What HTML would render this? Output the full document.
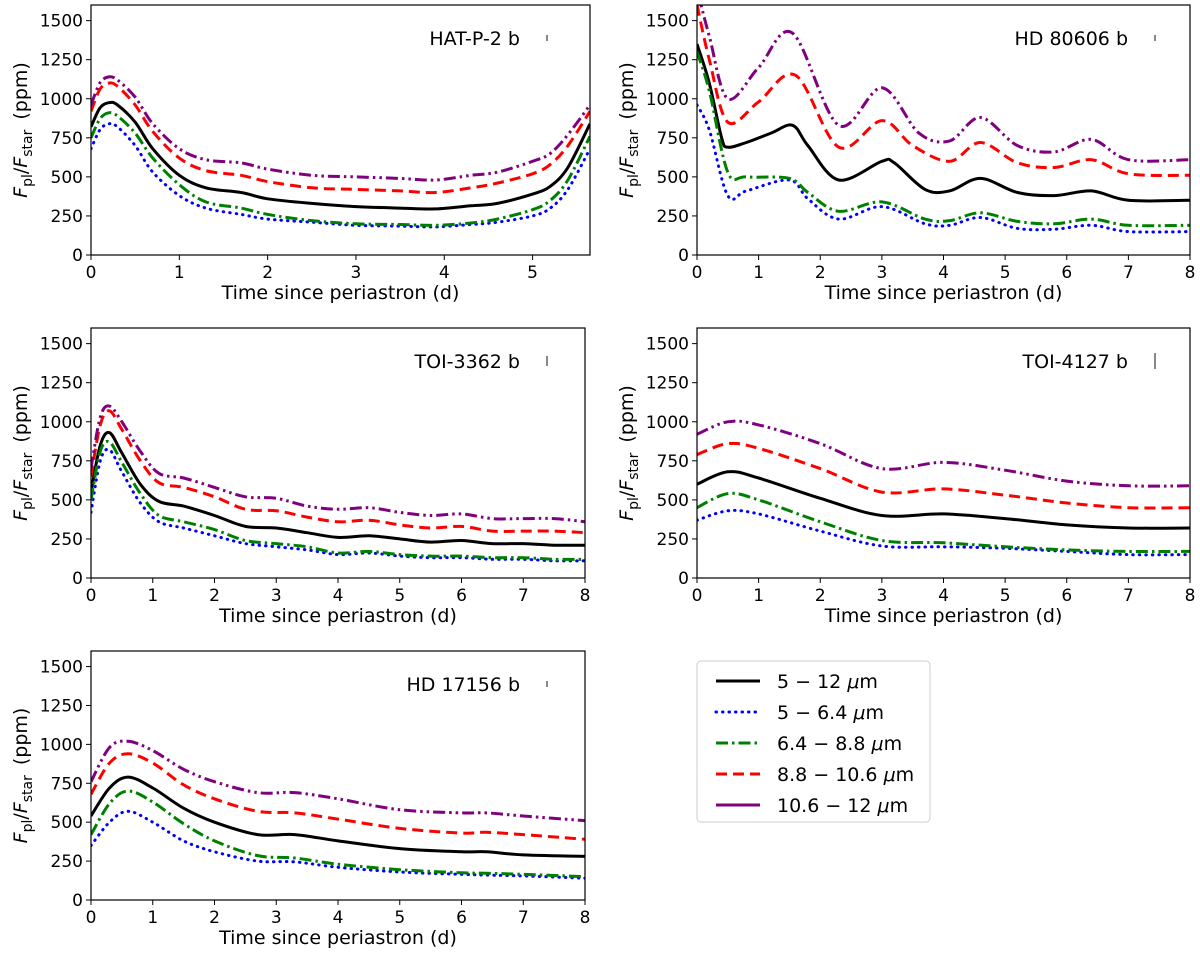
<!DOCTYPE html>
<html><head><meta charset="utf-8"><style>body{margin:0;background:#fff}svg{display:block}text{font-family:"DejaVu Sans","Liberation Sans",sans-serif;fill:#000}</style></head>
<body>
<svg id="fig" width="1200" height="960" xmlns="http://www.w3.org/2000/svg"></svg>
<script>
const seriesNames=["5 − 12 μm","5 − 6.4 μm","6.4 − 8.8 μm","8.8 − 10.6 μm","10.6 − 12 μm"];
const planetNames=["HAT-P-2 b","HD 80606 b","TOI-3362 b","TOI-4127 b","HD 17156 b"];
const yTicks=[0,250,500,750,1000,1250,1500];
const xTicksA=[0,1,2,3,4,5];
const xTicksB=[0,1,2,3,4,5,6,7,8];
// panel 1
const p1x=[0,0.1,0.2,0.3,0.5,0.7,1,1.3,1.7,2,2.5,3,3.5,3.9,4.3,4.6,5,5.2,5.4,5.65];
const p1black=[820,940,975,960,850,680,510,430,400,360,330,310,300,295,315,330,390,440,560,840];
const p1blue=[680,800,840,820,700,530,380,300,260,230,210,190,185,180,195,210,250,300,420,680];
const p1green=[750,870,910,890,780,620,450,340,300,260,220,200,195,190,205,230,290,350,480,760];
const p1red=[920,1060,1100,1080,960,790,620,540,510,470,430,420,410,400,430,460,520,580,700,920];
const p1purple=[960,1100,1140,1120,1010,840,680,610,590,550,510,500,490,480,510,530,600,650,770,960];
// panel 2
const p2xBlack=[0,0.2,0.4,0.5,0.8,1.2,1.55,1.8,2.3,3,3.2,3.7,4.1,4.6,5.2,5.8,6.4,7,8];
const p2black=[1350,1100,750,690,720,780,830,700,480,600,590,420,410,490,400,380,410,350,350];
const p2x=[0,0.2,0.5,0.8,1.5,1.8,2.3,3,3.7,4.1,4.6,5.2,5.8,6.4,7,8];
const p2blue=[960,800,380,410,480,360,230,310,200,190,240,170,165,190,150,150];
const p2green=[1300,1050,530,500,490,400,280,340,230,220,270,215,200,230,190,190];
const p2xR=[0,0.2,0.5,1,1.6,2.3,3,3.5,4.1,4.6,5.2,5.8,6.4,7,8];
const p2red=[1600,1250,850,980,1150,690,860,700,600,720,590,560,610,520,510];
const p2xP=[0,0.2,0.5,1,1.55,2.3,3,3.6,4.1,4.6,5.2,5.8,6.4,7,8];
const p2purple=[1700,1400,1000,1200,1420,830,1070,780,730,880,700,660,740,610,610];
// panel 3
const p3x=[0,0.15,0.3,0.5,0.8,1.1,1.5,2,2.5,3,3.5,4,4.5,5,5.5,6,6.5,7,7.5,8];
const p3black=[550,850,930,800,600,490,460,400,330,320,290,260,270,250,230,240,220,220,210,210];
const p3blue=[420,750,820,680,480,360,320,270,220,200,180,150,160,140,130,130,120,120,110,110];
const p3green=[500,810,870,740,540,400,360,310,240,220,200,160,170,150,140,140,130,130,120,120];
const p3red=[650,980,1070,950,750,610,580,520,440,430,390,360,370,340,320,330,300,300,300,290];
const p3purple=[700,1030,1100,1000,810,670,640,580,520,510,460,440,450,420,400,410,380,380,380,360];
// panel 4
const p4x=[0,0.5,1,2,3,4,5,6,7,8];
const p4black=[600,680,640,510,400,410,380,340,320,320];
const p4blue=[370,430,410,300,205,200,190,170,150,150];
const p4green=[450,540,500,360,240,225,200,180,170,170];
const p4red=[790,860,830,700,550,570,530,480,450,450];
const p4purple=[920,1000,980,860,700,740,690,620,590,590];
// panel 5
const p5x=[0,0.3,0.6,1,1.5,2,2.7,3.3,4,5,6,6.4,7,8];
const p5black=[540,720,790,720,590,500,420,420,380,330,310,310,290,280];
const p5blue=[350,500,570,500,380,310,250,245,210,180,165,160,155,140];
const p5green=[420,620,700,630,490,380,285,270,230,195,175,172,165,150];
const p5red=[680,880,940,880,740,650,570,560,520,460,430,435,420,390];
const p5purple=[760,980,1020,960,840,760,690,690,650,580,560,560,540,510];

const NS="http://www.w3.org/2000/svg";
const svg=document.getElementById('fig');
function mk(tag,attrs,parent){const e=document.createElementNS(NS,tag);for(const k in attrs)e.setAttribute(k,attrs[k]);(parent||svg).appendChild(e);return e;}
const styles=[
 {c:"#000",d:""},{c:"#0000ff",d:"0.5,6"},{c:"#008000",d:"12,4,2.5,4"},{c:"#ff0000",d:"11,6"},{c:"#800080",d:"12,4,2.5,4,2.5,4"}];
function smooth(pts){let d="M"+pts[0][0]+","+pts[0][1];for(let i=0;i<pts.length-1;i++){const p0=pts[Math.max(0,i-1)],p1=pts[i],p2=pts[i+1],p3=pts[Math.min(pts.length-1,i+2)];
 const c1=[p1[0]+(p2[0]-p0[0])/6,p1[1]+(p2[1]-p0[1])/6],c2=[p2[0]-(p3[0]-p1[0])/6,p2[1]-(p3[1]-p1[1])/6];
 d+=" C"+c1[0].toFixed(1)+","+c1[1].toFixed(1)+" "+c2[0].toFixed(1)+","+c2[1].toFixed(1)+" "+p2[0].toFixed(1)+","+p2[1].toFixed(1);}return d;}
function panel(idx,L,R,T,B,xmax,xticks,series,errX,errH){
 const g=mk('g',{});
 
 
 const X=v=>L+(v/xmax)*(R-L), Y=v=>B-(v/1600)*(B-T);
 const cp=mk('clipPath',{id:'cp'+idx},g);mk('rect',{x:L,y:T,width:R-L,height:B-T},cp);
 const lg=mk('g',{'clip-path':'url(#cp'+idx+')'},g);
 series.forEach((s,i)=>{const pts=s.x.map((x,j)=>[X(x),Y(s.y[j])]);
  const p=mk('path',{d:smooth(pts),fill:'none',stroke:styles[i].c,'stroke-width':3,'stroke-dasharray':styles[i].d,'stroke-linecap':i==1?'round':'butt'},lg);
  
  });
 const fr=mk('rect',{x:L,y:T,width:R-L,height:B-T,fill:'none',stroke:'#000','stroke-width':1.2},g);
 
 yTicks.forEach(v=>{mk('line',{x1:L-5,x2:L,y1:Y(v),y2:Y(v),stroke:'#000'},g);
  const t=mk('text',{x:L-8,y:Y(v)+6,'text-anchor':'end','font-size':17},g);t.textContent=v;
  });
 xticks.forEach(v=>{mk('line',{x1:X(v),x2:X(v),y1:B,y2:B+5,stroke:'#000'},g);
  const t=mk('text',{x:X(v),y:B+23,'text-anchor':'middle','font-size':17},g);t.textContent=v;
  });
 const xl=mk('text',{x:(L+R)/2,y:B+44,'text-anchor':'middle','font-size':19},g);xl.textContent="Time since periastron (d)";
 
 const yl=mk('text',{x:0,y:0,'text-anchor':'middle','font-size':19,transform:`translate(${L-64},${(T+B)/2}) rotate(-90)`},g);
 yl.innerHTML='<tspan font-style="italic">F</tspan><tspan font-size="14" dy="5">pl</tspan><tspan dy="-5">/</tspan><tspan font-style="italic">F</tspan><tspan font-size="14" dy="5">star</tspan><tspan dy="-5" dx="10">(ppm)</tspan>';
 
 const pt=mk('text',{x:errX-27,y:T+40,'text-anchor':'end','font-size':19},g);pt.textContent=planetNames[idx];
 
 const eb=mk('line',{x1:errX,x2:errX,y1:T+33-errH/2,y2:T+33+errH/2,stroke:'#888','stroke-width':2},g);
 
}
const mkS=(xs,arrs)=>arrs.map(a=>({x:xs,y:a}));
panel(0,91,590,5,255,5.65,xTicksA,mkS(p1x,[p1black,p1blue,p1green,p1red,p1purple]),547,6);
panel(1,697,1190,5,255,8,xTicksB,[{x:p2xBlack,y:p2black},{x:p2x,y:p2blue},{x:p2x,y:p2green},{x:p2xR,y:p2red},{x:p2xP,y:p2purple}],1155,6);
panel(2,91,585,328,578,8,xTicksB,mkS(p3x,[p3black,p3blue,p3green,p3red,p3purple]),547,10);
panel(3,697,1190,328,578,8,xTicksB,mkS(p4x,[p4black,p4blue,p4green,p4red,p4purple]),1155,16);
panel(4,91,585,651,900,8,xTicksB,mkS(p5x,[p5black,p5blue,p5green,p5red,p5purple]),547,6);
// legend
const lg=mk('g',{});
mk('rect',{x:697,y:661,width:233,height:161,rx:4,fill:'#fff',stroke:'#ccc'},lg);
seriesNames.forEach((n,i)=>{const y=681+i*31;
 mk('line',{x1:716,x2:760,y1:y,y2:y,stroke:styles[i].c,'stroke-width':3,'stroke-dasharray':i==4?'':styles[i].d,'stroke-linecap':i==1?'round':'butt'},lg);
 const t=mk('text',{x:777,y:y+7,'font-size':19},lg);
 t.innerHTML=n.replace('μm','<tspan font-style="italic">μ</tspan>m');
 });
</script>
</body></html>
